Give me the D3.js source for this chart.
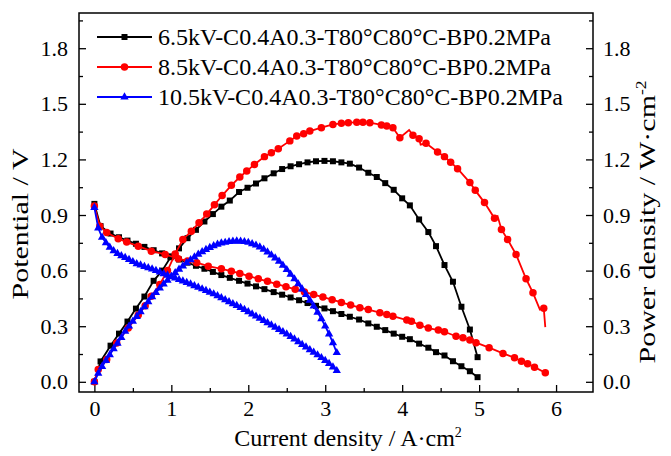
<!DOCTYPE html>
<html>
<head>
<meta charset="utf-8">
<script src="https://cdn.jsdelivr.net/npm/d3@7"></script>
<style>
body { margin: 0; background: #fff; }
text { font-family: "Liberation Serif", "Times New Roman", Times, serif; fill: #000; }
</style>
</head>
<body>
<div id="chart"></div>
<script>
// legend labels
var seriesNames = [
    "6.5kV-C0.4A0.3-T80\u00B0C80\u00B0C-BP0.2MPa",
    "8.5kV-C0.4A0.3-T80\u00B0C80\u00B0C-BP0.2MPa",
    "10.5kV-C0.4A0.3-T80\u00B0C80\u00B0C-BP0.2MPa"
];
var seriesColors = ["#000000", "#ff0000", "#0000ff"];

var xTicks = [0, 1, 2, 3, 4, 5, 6];
var yTicks = [0, 0.3, 0.6, 0.9, 1.2, 1.5, 1.8];

// 6.5kV (black, squares)
var curBlack = [0, 0.08, 0.21, 0.32, 0.43, 0.54, 0.65, 0.77, 0.88, 0.99, 1.1, 1.21, 1.32, 1.43, 1.54, 1.65, 1.76, 1.88, 1.99, 2.1,
    2.21, 2.33, 2.44, 2.55, 2.66, 2.77, 2.88, 2.99, 3.1, 3.21, 3.32, 3.44, 3.56, 3.67, 3.78, 3.89, 4.0, 4.1, 4.22, 4.34,
    4.44, 4.55, 4.66, 4.77, 4.88, 4.98];
var voltBlack = [0.96, 0.84, 0.80, 0.78, 0.762, 0.745, 0.728, 0.71, 0.693, 0.677, 0.66, 0.643, 0.626, 0.61, 0.593, 0.576, 0.561, 0.545, 0.53, 0.515,
    0.5, 0.484, 0.47, 0.455, 0.44, 0.425, 0.41, 0.396, 0.381, 0.366, 0.351, 0.336, 0.315, 0.297, 0.279, 0.26, 0.243, 0.23, 0.206, 0.184,
    0.16, 0.142, 0.111, 0.084, 0.057, 0.025];
var powBlack = [0, 0.11, 0.195, 0.26, 0.325, 0.395, 0.46, 0.545, 0.6, 0.672, 0.72, 0.775, 0.82, 0.865, 0.905, 0.945, 0.978, 1.024, 1.047, 1.07,
    1.098, 1.125, 1.148, 1.163, 1.174, 1.184, 1.19, 1.192, 1.19, 1.184, 1.177, 1.156, 1.128, 1.105, 1.072, 1.036, 0.99, 0.952, 0.876, 0.808,
    0.732, 0.63, 0.54, 0.405, 0.282, 0.133];

// 8.5kV (red, circles)
var curRedV = [0, 0.07, 0.16, 0.31, 0.42, 0.57, 0.74, 0.92, 1.09, 1.21, 1.33, 1.48, 1.65, 1.78, 1.89, 2.01, 2.13, 2.25, 2.37, 2.49,
    2.61, 2.73, 2.85, 2.97, 3.09, 3.21, 3.33, 3.45, 3.56, 3.71, 3.8, 3.88, 4.06, 4.12, 4.23, 4.34, 4.47, 4.55, 4.7, 4.79,
    4.88, 4.96, 5.13, 5.31, 5.46, 5.55, 5.63, 5.72, 5.86];
var voltRed = [0.948, 0.84, 0.805, 0.772, 0.754, 0.732, 0.705, 0.687, 0.664, 0.652, 0.643, 0.624, 0.61, 0.597, 0.585, 0.57, 0.556, 0.542, 0.527, 0.513,
    0.499, 0.485, 0.471, 0.457, 0.443, 0.428, 0.414, 0.40, 0.39, 0.373, 0.363, 0.354, 0.333, 0.327, 0.305, 0.29, 0.279, 0.27, 0.246, 0.238,
    0.225, 0.211, 0.184, 0.153, 0.13, 0.111, 0.097, 0.079, 0.049];
var curRedP = [0, 0.05, 0.16, 0.29, 0.44, 0.57, 0.66, 0.74, 0.85, 0.95, 1.05, 1.15, 1.26, 1.36, 1.46, 1.56, 1.66, 1.78, 1.89, 1.98,
    2.08, 2.21, 2.3, 2.39, 2.54, 2.63, 2.72, 2.8, 2.95, 3.1, 3.21, 3.3, 3.41, 3.49, 3.58, 3.73, 3.8, 3.88, 3.97, 4.09,
    4.14, 4.22, 4.24, 4.31, 4.46, 4.55, 4.63, 4.72, 4.88, 4.95, 5.07, 5.2, 5.24, 5.29, 5.37, 5.48, 5.61, 5.7, 5.79, 5.84, 5.86];
var powRed = [0, 0.066, 0.12, 0.21, 0.29, 0.36, 0.41, 0.462, 0.525, 0.6, 0.69, 0.768, 0.813, 0.858, 0.905, 0.955, 1.005, 1.06, 1.105, 1.137,
    1.173, 1.215, 1.236, 1.258, 1.3, 1.326, 1.339, 1.353, 1.371, 1.389, 1.395, 1.398, 1.40, 1.40, 1.398, 1.386, 1.38, 1.371, 1.317, 1.359,
    1.33, 1.312, 1.28, 1.287, 1.24, 1.215, 1.185, 1.15, 1.075, 1.033, 0.967, 0.882, 0.894, 0.822, 0.768, 0.687, 0.556, 0.48, 0.39, 0.397, 0.295];
// points of the red power line drawn without a symbol
var redPowNoMark = [4.09, 4.24, 5.24, 5.79, 5.86];

// 10.5kV (blue, triangles)
var curBlue = [0, 0.05, 0.1, 0.15, 0.2, 0.25, 0.3, 0.35, 0.4, 0.45, 0.5, 0.55, 0.6, 0.65, 0.7, 0.75, 0.8, 0.85, 0.9, 0.95,
    1.0, 1.05, 1.1, 1.15, 1.2, 1.25, 1.3, 1.35, 1.4, 1.45, 1.5, 1.55, 1.6, 1.65, 1.7, 1.75, 1.8, 1.85, 1.9, 1.95,
    2.0, 2.05, 2.1, 2.15, 2.2, 2.25, 2.3, 2.35, 2.4, 2.45, 2.5, 2.55, 2.6, 2.65, 2.7, 2.75, 2.8, 2.85, 2.9, 2.95,
    3.0, 3.05, 3.1, 3.15];
var voltBlue = [0.940, 0.830, 0.780, 0.750, 0.726, 0.707, 0.692, 0.680, 0.670, 0.660, 0.648, 0.637, 0.630, 0.622, 0.615, 0.608, 0.600, 0.592, 0.583, 0.575,
    0.567, 0.559, 0.551, 0.543, 0.535, 0.527, 0.518, 0.510, 0.501, 0.492, 0.483, 0.474, 0.464, 0.453, 0.442, 0.431, 0.421, 0.411, 0.400, 0.390,
    0.378, 0.366, 0.354, 0.342, 0.330, 0.318, 0.306, 0.294, 0.282, 0.270, 0.257, 0.244, 0.230, 0.216, 0.201, 0.187, 0.173, 0.159, 0.145, 0.130,
    0.115, 0.098, 0.080, 0.060];
var powBlue = [0, 0.045, 0.082, 0.114, 0.146, 0.178, 0.208, 0.238, 0.272, 0.300, 0.326, 0.352, 0.378, 0.405, 0.432, 0.458, 0.482, 0.505, 0.527, 0.548,
    0.568, 0.588, 0.607, 0.625, 0.642, 0.658, 0.673, 0.688, 0.701, 0.713, 0.724, 0.734, 0.742, 0.748, 0.752, 0.756, 0.758, 0.759, 0.758, 0.756,
    0.752, 0.745, 0.737, 0.727, 0.715, 0.700, 0.684, 0.668, 0.650, 0.628, 0.605, 0.580, 0.555, 0.528, 0.500, 0.470, 0.440, 0.408, 0.375, 0.340,
    0.300, 0.258, 0.210, 0.157];

function init(){
    var w = 671;
    var h = 456;
    var left = 79, right = 593, top = 13, bottom = 392;

    var svg = d3.select("#chart")
                .append("svg")
                .attr("width", w)
                .attr("height", h);

    var x = d3.scaleLinear().domain([-0.2, 6.48]).range([left, right]);
    var y = d3.scaleLinear().domain([-0.055, 1.99]).range([bottom, top]);
    var yPow = d3.scaleLinear().domain([-0.055, 1.99]).range([bottom, top]);

    var minorX = [0.5, 1.5, 2.5, 3.5, 4.5, 5.5];
    var minorY = [0.15, 0.45, 0.75, 1.05, 1.35, 1.65, 1.95];

    // frame
    svg.append("rect")
        .attr("x", left).attr("y", top)
        .attr("width", right - left).attr("height", bottom - top)
        .attr("fill", "none").attr("stroke", "#000").attr("stroke-width", 1.5);

    function styleAxis(g) {
        g.attr("font-family", null).attr("font-size", null);
        g.select(".domain").remove();
        g.selectAll("line").attr("stroke", "#000").attr("stroke-width", 1.3);
        g.selectAll("text").style("font-size", "22px");
    }

    // bottom axis
    svg.append("g")
        .attr("transform", "translate(0," + bottom + ")")
        .call(d3.axisBottom(x).tickValues(xTicks).tickSize(-7).tickPadding(8).tickFormat(d3.format("d")))
        .call(styleAxis);
    svg.append("g")
        .attr("transform", "translate(0," + bottom + ")")
        .call(d3.axisBottom(x).tickValues(minorX).tickSize(-4).tickFormat(""))
        .call(styleAxis);

    // left axis
    svg.append("g")
        .attr("transform", "translate(" + left + ",0)")
        .call(d3.axisLeft(y).tickValues(yTicks).tickSize(-7).tickPadding(11).tickFormat(d3.format(".1f")))
        .call(styleAxis);
    svg.append("g")
        .attr("transform", "translate(" + left + ",0)")
        .call(d3.axisLeft(y).tickValues(minorY).tickSize(-4).tickFormat(""))
        .call(styleAxis);

    // right axis
    svg.append("g")
        .attr("transform", "translate(" + right + ",0)")
        .call(d3.axisRight(yPow).tickValues(yTicks).tickSize(-7).tickPadding(10).tickFormat(d3.format(".1f")))
        .call(styleAxis);
    svg.append("g")
        .attr("transform", "translate(" + right + ",0)")
        .call(d3.axisRight(yPow).tickValues(minorY).tickSize(-4).tickFormat(""))
        .call(styleAxis);

    // axis titles
    var xt = svg.append("text")
        .attr("x", 348).attr("y", 446)
        .attr("text-anchor", "middle")
        .style("font-size", "24px");
    xt.append("tspan").text("Current density / A\u00B7cm");
    xt.append("tspan").attr("dy", -9).style("font-size", "14px").text("2");

    svg.append("text")
        .attr("transform", "translate(28,224) rotate(-90) scale(1.25,1)")
        .attr("text-anchor", "middle")
        .style("font-size", "24px")
        .text("Potential / V");

    var rt = svg.append("text")
        .attr("transform", "translate(655,222) rotate(-90) scale(1.25,1)")
        .attr("text-anchor", "middle")
        .style("font-size", "24px");
    rt.append("tspan").text("Power density / W\u00B7cm");
    rt.append("tspan").attr("dy", -9).style("font-size", "14px").text("-2");

    var series = [
        {cv: curBlack, v: voltBlack, cp: curBlack, p: powBlack, skip: [], sym: d3.symbolSquare, size: 36},
        {cv: curRedV, v: voltRed, cp: curRedP, p: powRed, skip: redPowNoMark, sym: d3.symbolCircle, size: 44},
        {cv: curBlue, v: voltBlue, cp: curBlue, p: powBlue, skip: [], sym: d3.symbolTriangle, size: 30}
    ];

    var line = d3.line()
        .x(function(d) { return x(d[0]); })
        .y(function(d) { return y(d[1]); });

    series.forEach(function(s, i) {
        var color = seriesColors[i];
        var symbol = d3.symbol().type(s.sym).size(s.size);
        var sets = [
            {pts: d3.zip(s.cv, s.v), skip: []},
            {pts: d3.zip(s.cp, s.p), skip: s.skip}
        ];
        sets.forEach(function(set) {
            svg.append("path")
                .datum(set.pts)
                .attr("d", line)
                .attr("fill", "none")
                .attr("stroke", color)
                .attr("stroke-width", 1.8);
            svg.append("g")
                .selectAll("path")
                .data(set.pts.filter(function(d) { return set.skip.indexOf(d[0]) < 0; }))
                .enter()
                .append("path")
                .attr("d", symbol)
                .attr("transform", function(d) { return "translate(" + x(d[0]) + "," + y(d[1]) + ")"; })
                .attr("fill", color);
        });

        // legend row
        var ly = 37 + i * 30;
        var lg = svg.append("g");
        lg.append("line")
            .attr("x1", 97).attr("x2", 152)
            .attr("y1", ly).attr("y2", ly)
            .attr("stroke", color).attr("stroke-width", 1.8);
        lg.append("path")
            .attr("d", symbol)
            .attr("transform", "translate(124.5," + ly + ")")
            .attr("fill", color);
        lg.append("text")
            .attr("x", 158).attr("y", ly + 8)
            .style("font-size", "24px")
            .text(seriesNames[i]);
    });
}

window.onload = init;
</script>
</body>
</html>
